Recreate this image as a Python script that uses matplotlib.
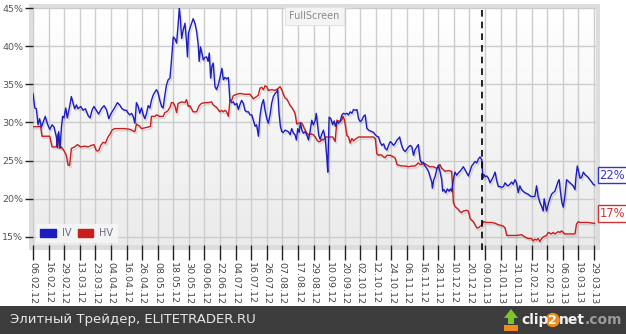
import numpy as np
import matplotlib
matplotlib.use("Agg")
import matplotlib.pyplot as plt
import matplotlib.patheffects as pe
from matplotlib.patches import Rectangle, Patch, Polygon
from matplotlib.transforms import blended_transform_factory

plt.rcParams['font.family'] = ['DejaVu Sans']

# trading-day index (0 = 06.02.12) and volatility, %
iv_day = [0, 0.9, 1.7, 2.6, 3.4, 4.3, 5.6, 6.3, 7.4, 8.6, 9.8, 10.8, 12.0, 12.5, 13.2, 13.9,
          14.6, 15.2, 15.9, 16.8, 17.6, 18.8, 19.7, 20.5, 21.4, 22.3, 23.1, 24.5, 25.7, 26.9,
          28.3, 29.3, 30.3, 31.3, 32.5, 33.7, 35.1, 36.5, 37.7, 38.9, 39.9, 41.1, 42.3, 43.3,
          44.5, 45.7, 47.1, 48.0, 48.9, 49.7, 50.6, 51.4, 52.3, 53.1, 54.0, 54.8, 55.7, 56.6,
          57.4, 58.3, 59.1, 60.0, 60.8, 61.7, 62.6, 63.4, 64.3, 65.1, 66.0, 66.8, 67.7, 68.5,
          69.4, 70.3, 71.1, 72.0, 72.8, 73.7, 74.5, 75.1, 75.7, 76.3, 77.1, 78.0, 78.8, 79.3,
          79.8, 80.5, 81.4, 82.2, 83.1, 84.0, 84.8, 85.3, 86.0, 86.7, 87.4, 88.2, 89.1, 89.9,
          90.5, 91.2, 91.8, 92.5, 93.4, 94.2, 95.1, 95.9, 97.0, 97.7, 98.6, 99.4, 100.3, 101.1,
          102.0, 102.8, 103.7, 104.6, 105.4, 106.3, 107.1, 108.0, 108.8, 109.7, 110.6, 111.4,
          112.3, 113.1, 114.0, 114.8, 115.7, 116.5, 117.4, 118.3, 119.1, 120.0, 120.8, 121.7,
          122.5, 123.4, 124.3, 125.1, 125.6, 126.3, 127.0, 127.7, 128.5, 129.4, 130.2, 131.1,
          132.0, 132.8, 133.7, 134.5, 135.2, 135.9, 136.6, 137.3, 138.0, 138.8, 139.7, 140.5,
          141.4, 142.2, 143.1, 143.9, 144.9, 145.4, 146.1, 146.7, 147.4, 148.3, 149.1, 150.0,
          150.8, 151.3, 152.0, 152.9, 153.8, 154.6, 155.3, 156.0, 156.8, 157.7, 158.6, 159.4,
          160.3, 161.1, 162.0, 162.8, 163.7, 164.5, 165.4, 166.3, 167.1, 168.0, 168.8, 169.7,
          170.5, 171.4, 172.3, 173.1, 174.0, 174.8, 175.7, 176.5, 177.4, 178.2, 179.1, 180.0,
          180.8, 181.7, 182.5, 183.4, 184.2, 185.1, 186.0, 186.8, 187.7, 188.2, 188.9, 189.5,
          190.2, 191.1, 191.9, 192.8, 193.7, 194.5, 195.3, 196.1, 197.0, 197.8, 198.7, 199.5,
          200.4, 201.2, 202.1, 203.0, 203.8, 204.7, 205.0, 205.7, 206.4, 207.2, 208.1, 208.9,
          209.8, 210.3, 211.0, 211.9, 212.7, 213.6, 214.3, 214.9, 215.8, 216.6, 217.5, 218.4,
          219.2, 220.1, 220.9, 221.8, 222.6, 223.5, 224.4, 225.2, 226.1, 226.9, 227.8, 228.6,
          229.5, 230.4, 230.9, 231.4, 232.1, 232.9, 233.8, 234.6, 235.5, 236.3, 237.2, 238.1,
          238.9, 239.8, 240.6, 241.5, 242.3, 243.2, 243.9, 244.8, 245.7, 246.5, 247.4, 248.2,
          249.1, 249.9, 250.8, 251.6, 252.5, 253.3, 254.2, 255.1, 255.9, 256.8, 257.6, 258.5,
          259.3, 260.2, 261.1, 261.9, 262.4, 263.1, 263.6, 264.5, 265.3, 266.2, 267.0, 267.9,
          268.8, 269.6, 270.1, 270.8, 271.5, 272.2, 273.0, 273.9, 274.8, 275.6, 276.5, 277.3,
          278.2, 278.7, 279.4, 280.1, 280.8, 281.6, 282.5, 283.3, 284.2, 285.0, 285.9, 286.8,
          287.6, 288.3]
iv_val = [33.8, 31.9, 31.8, 29.7, 30.5, 29.4, 30.3, 30.8, 29.8, 29.1, 29.7, 29.4, 28.1, 26.7, 28.8, 26.7,
          29.4, 30.8, 30.6, 31.9, 30.6, 32.1, 33.4, 32.6, 31.8, 32.3, 31.8, 32.1, 31.6, 31.8,
          30.9, 30.6, 31.6, 32.1, 31.6, 31.1, 31.8, 32.2, 31.7, 30.5, 31.1, 31.6, 32.1, 32.6,
          32.3, 31.8, 31.6, 31.6, 31.2, 31.0, 31.2, 30.8, 29.9, 32.6, 32.1, 31.2, 31.9, 31.0,
          30.5, 31.2, 32.2, 31.9, 32.9, 33.6, 34.0, 34.3, 33.8, 32.9, 32.1, 31.9, 33.6, 34.9,
          35.6, 35.8, 38.2, 41.2, 41.0, 40.4, 42.8, 45.0, 43.4, 41.0, 42.1, 43.0, 40.6, 38.6,
          41.7, 42.3, 43.0, 43.6, 43.0, 41.9, 40.2, 38.0, 39.9, 39.1, 38.2, 38.5, 38.6, 38.0,
          39.1, 35.8, 37.3, 37.8, 34.7, 34.3, 34.9, 35.8, 37.1, 35.6, 35.9, 35.7, 35.9, 32.9,
          32.6, 32.7, 32.3, 32.5, 31.7, 32.4, 32.9, 32.5, 31.6, 31.4, 31.4, 31.0,
          31.0, 30.3, 29.5, 29.7, 28.2, 30.8, 32.3, 33.0, 31.6, 30.5, 29.9, 31.0,
          32.5, 33.4, 33.8, 34.0, 34.3, 31.2, 29.5, 28.8, 28.7, 29.0, 28.9, 28.8,
          28.4, 29.2, 28.6, 28.4, 27.7, 29.2, 28.7, 29.9, 29.0, 28.6, 28.8, 28.4,
          27.7, 28.8, 30.3, 29.7, 30.3, 31.2, 29.6, 28.3, 27.8, 28.5, 29.0, 27.9,
          25.5, 23.5, 30.7, 30.5, 29.7, 30.2, 29.5, 30.1, 29.9, 30.2, 31.0, 31.2,
          31.1, 31.2, 31.0, 31.4, 31.2, 31.7, 31.6, 31.7, 30.5, 30.1, 30.3, 30.8,
          31.0, 29.2, 29.0, 28.9, 28.8, 28.7, 28.4, 28.2, 28.1, 27.4, 27.0, 27.2,
          26.6, 26.4, 27.0, 27.5, 27.3, 27.0, 27.3, 27.7, 27.9, 28.1, 27.3, 26.8,
          26.4, 26.2, 26.5, 26.8, 27.0, 26.8, 25.7, 26.4, 26.8, 27.1, 25.1, 24.7,
          24.8, 24.3, 24.0, 23.6, 22.9, 22.2, 21.4, 22.5, 22.9, 23.8, 24.4, 23.6,
          22.5, 21.0, 21.2, 20.8, 21.3, 21.0, 21.3, 21.0, 22.5, 23.5, 23.1, 23.4,
          23.6, 23.9, 24.2, 23.8, 23.4, 23.0, 23.7, 24.3, 24.6, 24.9, 24.7, 25.2,
          25.5, 25.1, 22.7, 23.2, 22.9, 23.0, 22.7, 22.1, 22.5, 22.9, 23.5, 22.3,
          21.6, 21.6, 21.5, 21.6, 22.1, 21.8, 21.7, 21.9, 22.2, 21.9, 22.5, 22.1,
          20.8, 21.7, 21.2, 21.0, 20.8, 20.7, 20.6, 20.4, 20.3, 20.3, 20.3, 21.7,
          20.3, 19.5, 19.0, 18.4, 20.0, 19.1, 18.4, 19.3, 20.0, 20.6, 20.8, 21.0,
          21.7, 22.3, 22.5, 20.8, 19.5, 18.9, 20.3, 22.5, 22.3, 22.1, 21.9, 21.7,
          21.2, 22.8, 24.3, 23.5, 22.7, 22.8, 23.5, 23.2, 23.0, 22.8, 22.5, 22.2,
          21.9, 21.8]

hv_day = [0, 2.6, 3.9, 4.6, 8.6, 9.8, 12.0, 12.8, 13.7, 14.6, 15.9, 17.1, 18.0, 18.8, 19.7, 21.4,
          22.8, 24.5, 26.5, 28.3, 30.0, 31.3, 32.5, 33.7, 34.8, 36.0, 37.2, 38.5, 39.6, 40.6,
          41.9, 44.5, 47.1, 49.7, 51.4, 52.3, 53.1, 54.8, 55.7, 57.4, 59.1, 60.3, 60.8, 62.6,
          63.4, 65.1, 66.8, 67.7, 68.5, 69.4, 70.3, 71.1, 72.0, 72.8, 73.7, 74.5, 76.3, 78.0,
          78.8, 79.7, 80.5, 82.2, 84.0, 85.3, 86.5, 88.2, 89.9, 91.7, 92.5, 94.2, 95.9, 96.9,
          97.7, 98.6, 99.4, 100.3, 101.1, 102.0, 102.8, 104.6, 106.3, 108.8, 111.4, 112.3, 113.1,
          114.8, 115.7, 116.5, 117.4, 118.3, 119.1, 120.0, 120.8, 122.5, 124.3, 126.0, 126.8,
          127.7, 128.5, 129.4, 130.2, 131.1, 132.0, 132.8, 133.7, 134.5, 135.4, 136.2, 137.6,
          138.3, 139.3, 140.5, 141.4, 142.7, 143.9, 144.9, 145.7, 146.6, 147.4, 148.3, 149.1,
          150.0, 152.6, 153.9, 155.1, 156.0, 156.8, 157.7, 158.6, 159.1, 159.8, 160.3, 161.1,
          162.0, 162.8, 163.7, 164.5, 165.4, 167.1, 169.7, 172.3, 174.8, 175.7, 176.5, 177.4,
          178.2, 179.1, 180.0, 180.8, 181.7, 183.4, 185.1, 186.0, 186.8, 187.7, 189.4, 191.1,
          192.8, 194.4, 196.1, 197.8, 198.7, 201.2, 203.0, 203.8, 205.5, 207.2, 208.1, 208.9,
          209.8, 210.7, 211.5, 213.2, 214.9, 215.8, 216.6, 217.5, 218.4, 219.2, 220.1, 220.9,
          222.6, 223.5, 224.4, 225.2, 226.1, 226.9, 227.8, 228.6, 229.5, 230.4, 231.2, 232.9,
          235.5, 237.2, 238.9, 240.6, 241.5, 242.3, 243.2, 244.8, 246.5, 248.2, 250.8, 252.5,
          253.3, 254.2, 255.9, 256.8, 257.6, 258.5, 259.3, 260.2, 261.1, 261.9, 263.6, 264.5,
          265.3, 266.2, 267.0, 267.9, 269.6, 270.5, 271.3, 272.2, 273.0, 275.6, 278.2, 279.0,
          279.9, 280.8, 282.5, 285.0, 287.6, 288.3]
hv_val = [29.45, 29.45, 29.5, 28.2, 28.2, 26.8, 26.8, 28.5, 26.6, 26.8, 26.3, 25.7, 24.4, 24.4, 26.6, 26.8,
          27.1, 26.8, 26.9, 26.8, 27.0, 27.1, 26.3, 26.3, 27.0, 27.4, 27.3, 28.1, 28.5, 29.0,
          29.2, 29.2, 29.2, 29.1, 28.9, 28.8, 29.8, 29.5, 29.2, 29.3, 29.4, 29.5, 30.8, 30.8,
          31.0, 30.8, 30.8, 31.3, 31.4, 31.6, 32.0, 32.6, 32.6, 32.2, 31.3, 32.5, 32.7, 32.6,
          33.0, 32.1, 32.2, 31.4, 31.4, 32.2, 32.5, 32.6, 32.6, 32.7, 32.3, 32.0, 31.4, 31.6,
          31.4, 31.6, 31.4, 30.8, 32.9, 32.9, 33.5, 33.7, 33.8, 33.7, 33.7, 33.4, 33.1,
          33.4, 33.6, 34.5, 34.6, 34.3, 34.8, 34.7, 34.2, 34.3, 34.2, 34.5, 34.7,
          34.3, 33.7, 33.2, 33.1, 32.7, 32.2, 32.0, 31.6, 31.2, 29.8, 29.9, 30.0,
          29.8, 29.2, 28.6, 28.4, 28.5, 28.4, 28.1, 27.7, 27.5, 27.5, 27.8, 27.7,
          28.1, 28.1, 28.1, 27.5, 30.3, 30.2, 30.1, 30.4, 30.8, 30.4, 29.7, 28.3,
          28.1, 27.3, 27.9, 27.6, 27.8, 28.1, 28.1, 28.1, 28.1, 27.9, 25.9, 25.7,
          25.8, 25.7, 25.5, 25.4, 25.7, 25.7, 25.5, 25.3, 24.5, 24.4, 24.3, 24.3,
          24.2, 24.3, 24.3, 24.7, 24.5, 24.6, 24.3, 24.2, 24.2, 24.0, 24.2, 24.5,
          24.0, 23.8, 23.6, 23.7, 23.6, 19.5, 19.0, 18.8, 18.6, 18.3, 18.2, 18.4,
          18.5, 18.4, 17.4, 17.2, 17.0, 16.6, 16.2, 16.2, 16.4, 16.5, 17.0, 16.9,
          16.9, 16.8, 16.6, 16.5, 16.4, 16.2, 15.2, 15.2, 15.2, 15.2, 15.3, 15.0,
          14.9, 14.8, 14.8, 14.5, 14.7, 14.6, 14.8, 14.4, 14.8, 15.0, 15.2, 15.6,
          15.5, 15.4, 15.6, 15.4, 15.7, 15.6, 15.8, 15.6, 15.4, 15.4, 15.4, 16.7,
          17.0, 16.9, 16.9, 16.9, 16.8, 16.8]

tick_days = list(range(0, 289, 8))
tick_labels = ["06.02.12", "16.02.12", "29.02.12", "13.03.12", "23.03.12", "04.04.12",
               "16.04.12", "26.04.12", "08.05.12", "18.05.12", "30.05.12", "09.06.12",
               "22.06.12", "04.07.12", "16.07.12", "26.07.12", "07.08.12", "17.08.12",
               "29.08.12", "10.09.12", "20.09.12", "02.10.12", "12.10.12", "24.10.12",
               "06.11.12", "16.11.12", "28.11.12", "10.12.12", "20.12.12", "09.01.13",
               "21.01.13", "31.01.13", "12.02.13", "22.02.13", "06.03.13", "19.03.13",
               "29.03.13"]
y_ticks = [15, 20, 25, 30, 35, 40, 45]
year_end_day = 230.5

iv_color = "#1c1cbf"
hv_color = "#c81e1e"

W, H = 626, 334
fig = plt.figure(figsize=(W / 100, H / 100), dpi=100)
fig.patch.set_facecolor("white")

def fx(px):
    return px / W

def fy(py):
    return 1 - py / H

# grey frame around the plot
fig.patches.append(Rectangle((fx(29), fy(250)), fx(600) - fx(29), fy(4) - fy(250),
                             transform=fig.transFigure, facecolor="#dddddd",
                             edgecolor="none", zorder=-2))

ax = fig.add_axes([fx(33), fy(245), fx(596) - fx(33), fy(8) - fy(245)])
ax.set_xlim(0, 289)
ax.set_ylim(13.95, 45)

# light gradient background
grad = np.linspace(1, 0, 100).reshape(-1, 1)
ax.imshow(grad, extent=[0, 1, 0, 1], transform=ax.transAxes, aspect="auto",
          cmap=matplotlib.colors.LinearSegmentedColormap.from_list("bg", ["#ebebeb", "#ffffff"]),
          vmin=0, vmax=1, zorder=0)

for s in ax.spines.values():
    s.set_visible(False)

ax.set_xticks(tick_days)
ax.set_xticklabels(tick_labels, rotation=270, fontsize=6.8, color="#444444")
ax.set_yticks(y_ticks)
ax.set_yticklabels([f"{v}%" for v in y_ticks], fontsize=6.8, color="#555555")
ax.tick_params(axis="x", length=11, width=1, color="#222222", pad=1)
ax.tick_params(axis="y", length=6, width=1, color="#222222", pad=1)
ax.grid(True, color="#cccccc", linewidth=1, zorder=1)
ax.set_axisbelow(True)

shadow = [pe.SimpleLineShadow(offset=(1, -1.5), shadow_color="#000000", alpha=0.12), pe.Normal()]
ax.plot(hv_day, hv_val, color=hv_color, linewidth=1.0, zorder=3, path_effects=shadow, label="HV")
ax.plot(iv_day, iv_val, color=iv_color, linewidth=1.0, zorder=4, path_effects=shadow, label="IV")

ax.axvline(year_end_day, color="black", linestyle=(0, (4, 3)), linewidth=1.2, zorder=5,
           ymin=-0.02, clip_on=False)

# last-value labels on the right
tr = blended_transform_factory(ax.transAxes, ax.transData)
for val, col in [(iv_val[-1], "#3333cc"), (hv_val[-1], "#cc3333")]:
    ax.text(1.006, val + 0.45, f"{round(val)}%", transform=tr, ha="left", va="bottom",
            fontsize=8.3, color=col, clip_on=False,
            bbox=dict(boxstyle="square,pad=0.16", facecolor="white", edgecolor=col, linewidth=1))

leg = ax.legend(handles=[Patch(color=iv_color, label="IV"), Patch(color=hv_color, label="HV")],
                loc="lower left", bbox_to_anchor=(0.005, 0.01), ncol=2, fontsize=7,
                frameon=True, fancybox=False, handlelength=1.6, handleheight=0.9,
                handletextpad=0.6, columnspacing=0.7, borderpad=0.45, borderaxespad=0)
leg.get_frame().set_facecolor("#f6f6f6")
leg.get_frame().set_edgecolor("none")
leg.get_frame().set_alpha(0.9)
for t in leg.get_texts():
    t.set_color("#6a6a8a")

ax.text(0.5, 0.966, "FullScreen", transform=ax.transAxes, ha="center", va="center",
        fontsize=7, color="#8a8a8a",
        bbox=dict(boxstyle="square,pad=0.4", facecolor="#f4f4f4", edgecolor="#e4e4e4", linewidth=0.8))

# footer band
fig.patches.append(Rectangle((0, 0), 1, fy(306), transform=fig.transFigure,
                             facecolor="#3c3c3c", edgecolor="none", zorder=-2))
fig.text(fx(10), fy(320), "Элитный Трейдер, ELITETRADER.RU", fontsize=9.5, color="#e6e6e6",
         ha="left", va="center")

# clip2net mark
fig.patches.append(Polygon([(fx(504), fy(318)), (fx(511), fy(309)), (fx(518), fy(318)),
                            (fx(514), fy(318)), (fx(514), fy(324)), (fx(508), fy(324)),
                            (fx(508), fy(318))], closed=True, transform=fig.transFigure,
                           facecolor="#7cc42a", edgecolor="none", zorder=2))
fig.patches.append(Rectangle((fx(504), fy(331)), fx(14), fy(325) - fy(331),
                             transform=fig.transFigure, facecolor="#f08a1c",
                             edgecolor="none", zorder=2))
t1 = fig.text(fx(521), fy(320), "clip", fontsize=10, fontweight="bold", color="#f2f2f2",
              ha="left", va="center")
t2 = ax.annotate("2", xy=(1, 0.5), xycoords=t1, va="center", ha="left", fontsize=9,
                 fontweight="bold", color="white", annotation_clip=False,
                 bbox=dict(boxstyle="circle,pad=0.05", facecolor="#f08a1c", edgecolor="none"))
t3 = ax.annotate("net", xy=(1, 0.5), xycoords=t2, xytext=(1, 0), textcoords="offset points",
                 va="center", ha="left", fontsize=10, fontweight="bold", color="#f2f2f2",
                 annotation_clip=False)
ax.annotate(".com", xy=(1, 0.5), xycoords=t3, va="center", ha="left", fontsize=10,
            fontweight="bold", color="#9a9a9a", annotation_clip=False)

fig.savefig("out.png", dpi=100)
